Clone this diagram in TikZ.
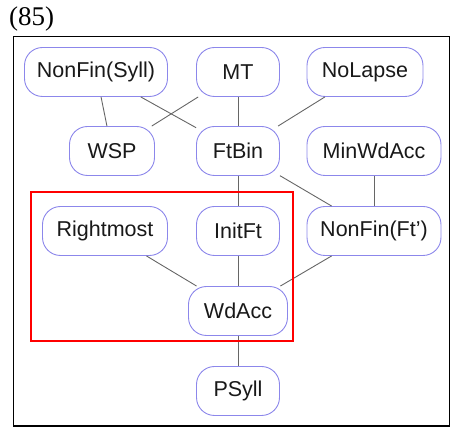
\documentclass[tikz,border=0pt]{standalone}
\usepackage{fontspec}
\setmainfont{Liberation Sans}
\newfontfamily\numfont{Liberation Serif}
\begin{document}
\begin{tikzpicture}[x=1pt,y=-1pt,
  cnode/.style={draw=nodeblue, line width=0.9pt, rounded corners=18pt,
    minimum height=49pt, inner sep=0pt, fill=white,
    font=\fontsize{21.5}{24}\selectfont, text=black!90},
  link/.style={draw=black!60, line width=0.9pt}]
\definecolor{nodeblue}{RGB}{140,135,235}
\useasboundingbox (0,0) rectangle (451,427);
% label and outer frame
\node[anchor=west, inner sep=0pt, font=\numfont\fontsize{27}{30}\selectfont] (num) at (9,19) {(85)};
\draw[line width=1.3pt] (13.5,36.5) rectangle (449.5,426);
% constraint nodes
\node[cnode, minimum width=143pt] (nfs) at (96,72) {NonFin(Syll)};
\node[cnode, minimum width=83pt]  (mt)  at (238,72) {MT};
\node[cnode, minimum width=116pt] (nl)  at (365,72) {NoLapse};
\node[cnode, minimum width=85pt]  (wsp) at (112,151) {WSP};
\node[cnode, minimum width=83pt]  (ftb) at (238,151) {FtBin};
\node[cnode, minimum width=134pt] (mwa) at (374,151) {MinWdAcc};
\node[cnode, minimum width=125pt] (rm)  at (105,231) {Rightmost};
\node[cnode, minimum width=83pt]  (ift) at (238,231) {InitFt};
\node[cnode, minimum width=134pt] (nff) at (374,231) {NonFin(Ft')};
\node[cnode, minimum width=99pt]  (wda) at (238,311) {WdAcc};
\node[cnode, minimum width=83pt]  (psy) at (238,391) {PSyll};
% ranking links
\draw[link] (nfs) -- (wsp);
\draw[link] (nfs) -- (ftb);
\draw[link] (mt) -- (wsp);
\draw[link] (mt) -- (ftb);
\draw[link] (nl) -- (ftb);
\draw[link] (ftb) -- (ift);
\draw[link] (ftb) -- (nff);
\draw[link] (mwa) -- (nff);
\draw[link] (rm) -- (wda);
\draw[link] (ift) -- (wda);
\draw[link] (nff) -- (wda);
\draw[link] (wda) -- (psy);
% highlighted region
\draw[red, line width=1.3pt] (31,192) rectangle (293,341);
\end{tikzpicture}
\end{document}
